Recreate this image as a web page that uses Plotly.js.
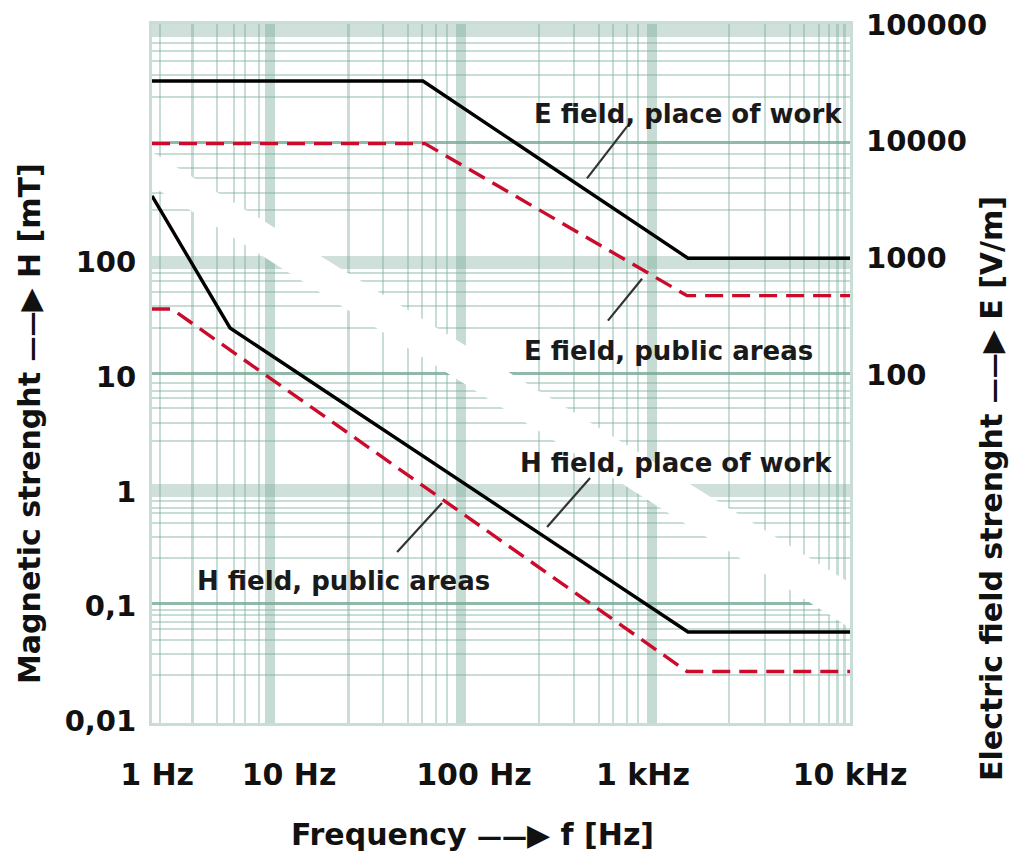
<!DOCTYPE html>
<html>
<head>
<meta charset="utf-8">
<script src="https://cdn.plot.ly/plotly-3.0.1.min.js"></script>
<style>html,body{margin:0;padding:0;background:#fff;}#chart{width:1011px;height:851px;}</style>
</head>
<body>
<div id="chart"></div>
<script>
// ---- data (frequency in Hz, H in mT, E in V/m) ----
const freqHWork   = [1, 2.8, 1180, 10000];
const hWork       = [376, 26.6, 0.0597, 0.0597];
const freqHPublic = [1, 1.3, 1164, 10000];
const hPublic     = [38.9, 38.9, 0.027, 0.027];
const freqEWork   = [1, 35.7, 1180, 10000];
const eWork       = [32800, 32800, 1000, 1000];
const freqEPublic = [1, 36.7, 1164, 10000];
const ePublic     = [9550, 9550, 479, 479];

// leader lines from labels to curves
const ptrEWorkF = [311, 527],   ptrEWorkE = [4820, 13340];
const ptrEPubF  = [410, 643],   ptrEPubE  = [293, 667];
const ptrHWorkF = [183.6, 324], ptrHWorkH = [0.491, 1.31];
const ptrHPubF  = [25.4, 45.9], ptrHPubH  = [0.297, 0.794];

// curve labels
const labelText = ["E field, place of work", "E field, public areas", "H field, place of work", "H field, public areas"];
const labelF    = [1180, 906, 1007, 12.45];
const labelV    = [17180, 160, 1.77, 0.166];
const labelAxis = ["y2", "y2", "y", "y"];

// tick labels
const xTickVals = [1.07, 6.1, 70, 651, 10000];
const xTickText = ["1 Hz", "10 Hz", "100 Hz", "1 kHz", "10 kHz"];
const hTickVals = [0.01, 0.1, 1, 10, 100];
const hTickText = ["0,01", "0,1", "1", "10", "100"];
const eTickVals = [100, 1000, 10000, 100000];
const eTickText = ["100", "1000", "10000", "100000"];

// white diagonal gap in the grid paper
const bandF = [1, 10000, 10000, 1];
const bandH = [909, 0.1596, 0.0646, 459];

// grid paper lines
const xGridThin  = [1.11, 1.70, 2.36, 2.95, 3.41, 4.10, 13.3, 21.1, 29.3, 35.3, 42.4, 49.0,
                    165, 262, 364, 438, 527, 610, 2026, 3260, 4530, 5450, 6640, 7590, 8440, 9290];
const xGridBands = [4.75, 59, 733];
const yGridThin  = [0.0252, 0.0384, 0.0508, 0.0634, 0.0729, 0.0839, 0.0927,
                    0.263, 0.401, 0.531, 0.650, 0.718, 0.826,
                    2.75, 3.95, 5.35, 6.53, 7.52, 8.83,
                    26.6, 41.4, 54.8, 68.3, 80.2,
                    284, 399, 540, 659, 873,
                    2740, 4270, 5650, 6900, 8090];
const yGridBands = [1.03, 100, 10400];
const yGridDark  = [0.105, 10.6, 1090];

// ---- styles ----
const FONT = 'DejaVu Sans';
const GRID_THIN = 'rgba(118,170,150,0.40)';
const GRID_BAND = 'rgba(118,170,150,0.36)';
const GRID_VBAND = 'rgba(118,170,150,0.42)';
const GRID_DARK = 'rgba(100,160,135,0.72)';
const RED = '#cc0a2c';

const log10 = Math.log10;

function empty(xa, ya) {
  return {x: [], y: [], xaxis: xa, yaxis: ya, mode: 'lines', showlegend: false, hoverinfo: 'skip'};
}

const traces = [
  empty('x2', 'y'), empty('x3', 'y'), empty('x', 'y3'), empty('x', 'y4'), empty('x', 'y5'),
  {x: bandF, y: bandH, mode: 'lines', fill: 'toself', fillcolor: '#ffffff',
   line: {width: 0, color: '#ffffff'}, hoverinfo: 'skip', showlegend: false},
  {x: freqEWork, y: eWork, yaxis: 'y2', mode: 'lines', name: 'E field, place of work',
   line: {color: '#000000', width: 3.4}},
  {x: freqEPublic, y: ePublic, yaxis: 'y2', mode: 'lines', name: 'E field, public areas',
   line: {color: RED, width: 3.4, dash: '18px,9px'}},
  {x: freqHWork, y: hWork, mode: 'lines', name: 'H field, place of work',
   line: {color: '#000000', width: 3.4}},
  {x: freqHPublic, y: hPublic, mode: 'lines', name: 'H field, public areas',
   line: {color: RED, width: 3.4, dash: '18px,9px'}},
  {x: ptrEWorkF, y: ptrEWorkE, yaxis: 'y2', mode: 'lines', line: {color: '#333', width: 2.2}, hoverinfo: 'skip'},
  {x: ptrEPubF, y: ptrEPubE, yaxis: 'y2', mode: 'lines', line: {color: '#333', width: 2.2}, hoverinfo: 'skip'},
  {x: ptrHWorkF, y: ptrHWorkH, mode: 'lines', line: {color: '#333', width: 2.2}, hoverinfo: 'skip'},
  {x: ptrHPubF, y: ptrHPubH, mode: 'lines', line: {color: '#333', width: 2.2}, hoverinfo: 'skip'}
];

function gridAxis(base, vals, color, width) {
  return Object.assign({
    type: 'log', tickmode: 'array', tickvals: vals, showticklabels: false, ticks: '',
    showgrid: true, gridcolor: color, gridwidth: width, zeroline: false, showline: false,
    autorange: false
  }, base);
}

const XR = [0, 4];
const HR = [-2.0174, 4.074];
const ER = [-0.974, 5.003];

const annotations = labelText.map((t, i) => ({
  text: t, xref: 'x', yref: labelAxis[i], x: log10(labelF[i]), y: log10(labelV[i]),
  xanchor: 'center', yanchor: 'middle',
  showarrow: false, font: {family: FONT, size: 26, weight: 700, color: '#1a1a1a'}
}));

const arrow = '<span style="font-size:25px">——</span><span style="font-size:30px">▶</span>';
const titleFont = {family: FONT, size: 30, weight: 700, color: '#111'};
annotations.push(
  {text: 'Magnetic strenght ' + arrow + ' H [mT]', xref: 'paper', yref: 'paper',
   x: -0.1748, y: 0.4292, xanchor: 'center', yanchor: 'middle', textangle: -90, showarrow: false,
   font: titleFont},
  {text: 'Electric field strenght ' + arrow + ' E [V/m]', xref: 'paper', yref: 'paper',
   x: 1.2034, y: 0.3362, xanchor: 'center', yanchor: 'middle', textangle: -90, showarrow: false,
   font: titleFont},
  {text: 'Frequency ' + arrow + ' f [Hz]', xref: 'paper', yref: 'paper',
   x: 0.4592, y: -0.1588, xanchor: 'center', yanchor: 'middle', showarrow: false,
   font: titleFont}
);

const layout = {
  width: 1011, height: 851,
  margin: {l: 152, r: 161, t: 24, b: 128, pad: 0},
  paper_bgcolor: '#ffffff', plot_bgcolor: '#ffffff',
  showlegend: false,
  font: {family: FONT, weight: 700, color: '#111'},
  xaxis: {type: 'log', range: XR, autorange: false, tickmode: 'array', tickvals: xTickVals, ticktext: xTickText,
          showgrid: false, zeroline: false, ticks: '', showline: true, mirror: true,
          linecolor: GRID_THIN, linewidth: 3, ticklabelstandoff: 23,
          tickfont: {family: FONT, size: 30, weight: 700, color: '#111'}},
  yaxis: {type: 'log', range: HR, autorange: false, tickmode: 'array', tickvals: hTickVals, ticktext: hTickText,
          showgrid: false, zeroline: false, ticks: '', showline: true, mirror: true,
          linecolor: GRID_THIN, linewidth: 3, ticklabelstandoff: 7,
          tickfont: {family: FONT, size: 29, weight: 700, color: '#111'}},
  yaxis2: {type: 'log', overlaying: 'y', side: 'right', anchor: 'x', range: ER, autorange: false,
           tickmode: 'array', tickvals: eTickVals, ticktext: eTickText,
           showgrid: false, zeroline: false, ticks: '', showline: false, ticklabelstandoff: 15,
           tickfont: {family: FONT, size: 29, weight: 700, color: '#111'}},
  xaxis2: gridAxis({overlaying: 'x', anchor: 'y', range: XR}, xGridThin, GRID_THIN, 2.8),
  xaxis3: gridAxis({overlaying: 'x', anchor: 'y', range: XR}, xGridBands, GRID_VBAND, 10.5),
  yaxis3: gridAxis({overlaying: 'y', anchor: 'x', range: HR}, yGridThin, GRID_THIN, 2.8),
  yaxis4: gridAxis({overlaying: 'y', anchor: 'x', range: HR}, yGridBands, GRID_BAND, 13),
  yaxis5: gridAxis({overlaying: 'y', anchor: 'x', range: HR}, yGridDark, GRID_DARK, 3),
  annotations: annotations
};

Plotly.newPlot('chart', traces, layout, {displayModeBar: false, staticPlot: true});
</script>
</body>
</html>
